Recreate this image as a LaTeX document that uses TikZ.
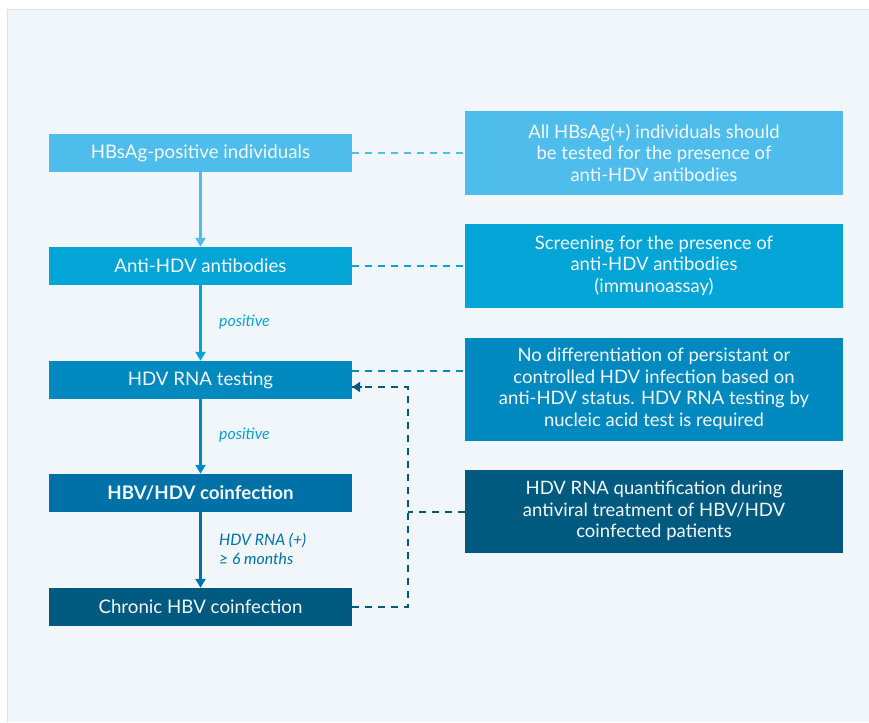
\documentclass[tikz,border=0pt]{standalone}
\usepackage{fontspec}
\setmainfont{Lato}
\usetikzlibrary{arrows.meta}
\definecolor{panel}{HTML}{F1F6FB}
\definecolor{panelline}{HTML}{D6E4F1}
\definecolor{cA}{HTML}{4FBDEC}
\definecolor{cB}{HTML}{03A5D6}
\definecolor{cC}{HTML}{0089BF}
\definecolor{cD}{HTML}{0071A6}
\definecolor{cE}{HTML}{005A80}
\definecolor{txt}{HTML}{F4FAFE}
\begin{document}
\begin{tikzpicture}[x=1pt,y=-1pt,
  stepbox/.style={draw=none,minimum width=303pt,minimum height=38pt,inner sep=0pt,
    text=txt,font=\fontsize{18.7}{21}\selectfont},
  notebox/.style={draw=none,minimum width=378pt,inner sep=0pt,align=center,
    text=txt,font=\fontsize{18.5}{21.5}\selectfont},
  flow/.style={line width=2.3pt,-{Triangle[length=9pt,width=10pt]}},
  link/.style={line width=2.4pt,dash pattern=on 7pt off 6pt},
  lbl/.style={font=\fontsize{15.8}{18}\selectfont\itshape,anchor=west,inner sep=0pt,align=left}]
% canvas and panel
\useasboundingbox (0,0) rectangle (869,722);
\fill[white] (0,0) rectangle (869,722);
\fill[panel] (7,9) rectangle (869,722);
\draw[panelline,line width=1.5pt] (7.5,722) -- (7.5,9.5) -- (869,9.5);
% left column: steps of the diagnostic pathway
\node[stepbox,fill=cA] (s1) at (200.5,153) {HBsAg-positive individuals};
\node[stepbox,fill=cB] (s2) at (200.5,266) {Anti-HDV antibodies};
\node[stepbox,fill=cC] (s3) at (200.5,380) {HDV RNA testing};
\node[stepbox,fill=cD,font=\fontsize{18.7}{21}\selectfont\bfseries] (s4) at (200.5,493) {HBV/HDV coinfection};
\node[stepbox,fill=cE] (s5) at (200.5,607) {Chronic HBV coinfection};
% right column: explanatory notes
\path[fill=cA] (465,111) rectangle (843,195);
\node[notebox] (n1) at (654,152.5) {All HBsAg(+) individuals should\\be tested for the presence of\\anti-HDV antibodies};
\path[fill=cB] (465,224) rectangle (843,308);
\node[notebox] (n2) at (654,265.5) {Screening for the presence of\\anti-HDV antibodies\\(immunoassay)};
\path[fill=cC] (465,338) rectangle (843,441);
\node[notebox] (n3) at (654,389) {No differentiation of persistant or\\controlled HDV infection based on\\anti-HDV status. HDV RNA testing by\\nucleic acid test is required};
\path[fill=cE] (465,470) rectangle (843,553);
\node[notebox] (n4) at (654,511) {HDV RNA quantification during\\antiviral treatment of HBV/HDV\\coinfected patients};
% anchors on the note boxes' left edges
\coordinate (n1w) at (465,153);
\coordinate (n2w) at (465,266);
\coordinate (n3w) at (465,371);
\coordinate (n4w) at (465,512);
\coordinate (bus) at (408,512);
% flow arrows
\draw[flow,cA] (s1.south) -- (s2.north);
\draw[flow,cB] (s2.south) -- (s3.north);
\draw[flow,cC] (s3.south) -- (s4.north);
\draw[flow,cD] (s4.south) -- (s5.north);
% arrow labels
\node[lbl,text=cB] (p1) at (219,322) {positive};
\node[lbl,text=cB!85!cC] (p2) at (219,435) {positive};
\node[lbl,text=cD,font=\fontsize{15.8}{18.5}\selectfont\itshape] (p3) at (219,549) {HDV RNA (+)\\≥ 6 months};
% dashed links to the notes
\draw[link,cA] (s1.east) -- (n1w);
\draw[link,cB] (s2.east) -- (n2w);
\draw[link,cC] (s3.east |- n3w) -- (n3w);
\draw[link,cE] (s5.east) -| (408,387) -- ([yshift=-7pt]s3.east);
\draw[cE,-{Triangle[length=8pt,width=10pt]},line width=2.3pt] (362,387) -- ([yshift=-7pt]s3.east);
\draw[link,cE] (n4w) -- (bus);
\end{tikzpicture}
\end{document}
